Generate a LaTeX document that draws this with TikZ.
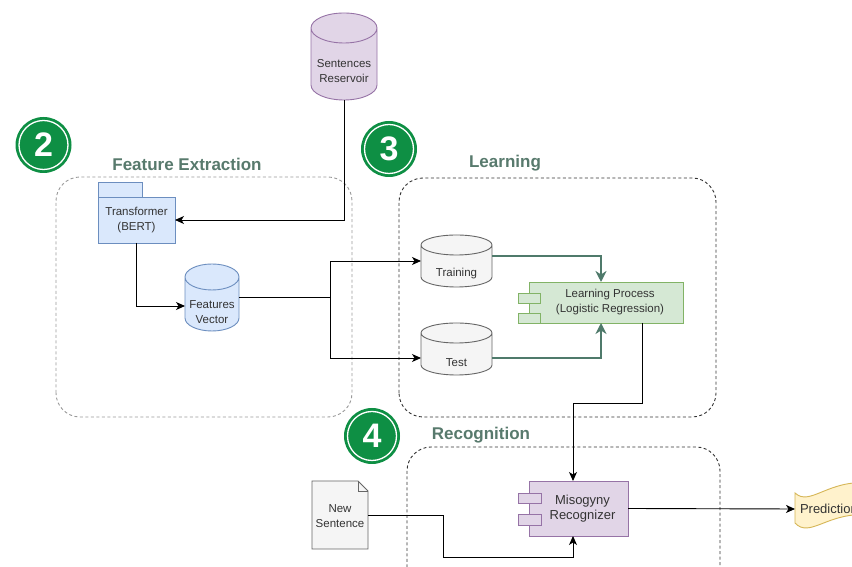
\documentclass[tikz,border=0pt]{standalone}
\usepackage{fontspec}
\setmainfont{Liberation Sans}
\usetikzlibrary{arrows.meta,calc}

\definecolor{txtgray}{HTML}{333333}
\definecolor{lblgreen}{HTML}{587A6D}
\definecolor{flowgreen}{HTML}{4F7A6B}
\definecolor{badgegreen}{HTML}{0E8F44}
\definecolor{purplefill}{HTML}{E1D5E7}
\definecolor{purpleline}{HTML}{9673A6}
\definecolor{bluefill}{HTML}{DAE8FC}
\definecolor{blueline}{HTML}{6C8EBF}
\definecolor{grayfill}{HTML}{F5F5F5}
\definecolor{grayline}{HTML}{666666}
\definecolor{greenfill}{HTML}{D5E8D4}
\definecolor{greenline}{HTML}{82B366}
\definecolor{yellowfill}{HTML}{FFF2CC}
\definecolor{yellowline}{HTML}{D6B656}
\definecolor{framegray}{HTML}{9A9A9A}

\tikzset{
  every node/.style={inner sep=0pt, outer sep=0pt, align=center, text=txtgray,
    font=\fontsize{11.5}{15}\selectfont},
  geom/.style={rectangle, draw=none, fill=none},
  bigtxt/.style={font=\fontsize{13}{15}\selectfont},
  grouplabel/.style={text=lblgreen, font=\fontsize{17}{17}\selectfont\bfseries},
  groupframe/.style={rounded corners=24pt, dash pattern=on 3pt off 2.5pt, line width=0.9pt},
  badge/.style={circle, fill=badgegreen, minimum size=56pt, text=white,
    font=\fontsize{34}{34}\selectfont\bfseries},
  purplestyle/.style={fill=purplefill, draw=purpleline, line width=0.9pt},
  bluestyle/.style={fill=bluefill, draw=blueline, line width=0.9pt},
  graystyle/.style={fill=grayfill, draw=grayline, line width=0.9pt},
  greenstyle/.style={fill=greenfill, draw=greenline, line width=0.9pt},
  yellowstyle/.style={fill=yellowfill, draw=yellowline, line width=0.9pt},
  arr/.style={draw=black, line width=0.9pt, -{Stealth[length=9pt,width=8pt,inset=2.5pt]}},
  plain/.style={draw=black, line width=0.9pt},
  garr/.style={draw=flowgreen, line width=1.9pt, -{Stealth[length=11pt,width=11pt,inset=3.5pt]}},
}

% cylinder drawn over the box of a named node: #1 node, #2 end-ellipse y radius, #3 style
\newcommand\cylbody[3]{%
  \path[#3] let \p1=(#1.north west), \p2=(#1.south east), \n1={(\x2-\x1)/2} in
    (\x1,\y1-#2pt) -- (\x1,\y2+#2pt)
    arc[start angle=180, end angle=360, x radius=\n1, y radius=#2pt]
    -- (\x2,\y1-#2pt)
    arc[start angle=0, end angle=180, x radius=\n1, y radius=#2pt]
    -- cycle
    (\x1,\y1-#2pt) arc[start angle=180, end angle=360, x radius=\n1, y radius=#2pt];}

% numbered step badge: #1 name, #2 position, #3 number
\newcommand\stepbadge[3]{%
  \node[badge] (#1) at (#2) {#3};
  \draw[white, line width=1.3pt] (#1.center) circle[radius=24.5];}

\begin{document}
\begin{tikzpicture}[x=1pt,y=1pt]
\useasboundingbox (0,0) rectangle (852,567);
\clip (0,0) rectangle (852,567);
\fill[white] (0,0) rectangle (852,567);

% group frames
\draw[groupframe, draw=framegray] (56,150) rectangle (352,390);
\draw[groupframe, draw=txtgray] (399,150) rectangle (716,389);
\draw[groupframe, draw=txtgray] (407,-30) rectangle (720,120);

% group titles and step badges
\node[grouplabel] (lbl-fe) at (187,403) {Feature Extraction};
\node[grouplabel] (lbl-learn) at (505,404) {Learning};
\node[grouplabel] (lbl-rec) at (481,132) {Recognition};
\stepbadge{b2}{43.5,422}{2}
\stepbadge{b3}{389,418}{3}
\stepbadge{b4}{372,131}{4}

% sentence store
\node[geom, minimum width=66pt, minimum height=87pt] (res) at (344,510.5) {};
\cylbody{res}{15}{purplestyle}
\node (res-t) at (344,495.5) {Sentences\\Reservoir};

% transformer package
\node[bluestyle, minimum width=77pt, minimum height=46pt] (bert) at (136.5,347) {Transformer\\(BERT)};
\draw[bluestyle] (bert.north west) rectangle ++(44,15);

% features vector store
\node[geom, minimum width=54pt, minimum height=67pt] (fv) at (212,269.5) {};
\cylbody{fv}{13}{bluestyle}
\node (fv-t) at (212,255) {Features\\Vector};

% training / test stores
\node[geom, minimum width=71pt, minimum height=52pt] (tr) at (456.5,306) {};
\cylbody{tr}{10}{graystyle}
\node (tr-t) at (456.5,293) {Training};
\node[geom, minimum width=71pt, minimum height=52pt] (te) at (456.5,218) {};
\cylbody{te}{10}{graystyle}
\node (te-t) at (456.5,204) {Test};

% learning process component
\node[greenstyle, minimum width=154pt, minimum height=41pt] (lp) at (606,264.5) {\hspace*{8pt}Learning Process\\\hspace*{8pt}(Logistic Regression)};
\draw[greenstyle] ([xshift=-11pt,yshift=-11pt]lp.north west) rectangle ++(22,-10);
\draw[greenstyle] ([xshift=-11pt,yshift=-31pt]lp.north west) rectangle ++(22,-10);

% recognizer component
\node[purplestyle, bigtxt, minimum width=99pt, minimum height=55pt] (mr) at (578.5,58.5) {\hspace*{8pt}Misogyny\\\hspace*{8pt}Recognizer};
\draw[purplestyle] ([xshift=-11pt,yshift=-12pt]mr.north west) rectangle ++(23,-10);
\draw[purplestyle] ([xshift=-11pt,yshift=-33pt]mr.north west) rectangle ++(23,-11);

% new sentence document
\node[geom, minimum width=56pt, minimum height=68pt] (ns) at (340,52) {};
\draw[graystyle] (ns.south west) -- (ns.north west) -- ([xshift=-10pt]ns.north east)
  -- ([yshift=-10pt]ns.north east) -- (ns.south east) -- cycle;
\draw[graystyle, fill=none] ([xshift=-10pt]ns.north east) -- ([xshift=-10pt,yshift=-10pt]ns.north east)
  -- ([yshift=-10pt]ns.north east);
\node (ns-t) at (340,51) {New\\Sentence};

% prediction tape
\draw[yellowstyle] (795,74) .. controls (810,60) and (828,88) .. (870,84)
  -- (870,52) .. controls (828,56) and (810,28) .. (795,44) -- cycle;
\node[bigtxt, anchor=west, inner xsep=5pt] (pred) at (795,58) {Prediction};

% connectors
\coordinate (split) at (330,269.5);
\draw[arr] (res.south) |- (bert.east);
\draw[arr] (bert.south) |- ([yshift=-8.5pt]fv.west);
\draw[plain] (fv.east) -- (split);
\draw[arr] (split) |- (tr.west);
\draw[arr] (split) |- ([yshift=-9pt]te.west);
\draw[garr] ([yshift=5pt]tr.east) -| ([xshift=-5pt]lp.north);
\draw[garr] ([yshift=-9pt]te.east) -| ([xshift=-5pt]lp.south);
\coordinate (lp-out) at ([xshift=36pt]lp.south);
\coordinate (lp-bend) at (642,164);
\draw[arr] (lp-out) -- (lp-bend) -| ([xshift=-5.5pt]mr.north);
\coordinate (ns-bend) at (443,10);
\draw[arr] (ns.east) -| (ns-bend) -| ([xshift=-5.5pt]mr.south);
\draw[arr] (mr.east) -- (pred.west);
\end{tikzpicture}
\end{document}
